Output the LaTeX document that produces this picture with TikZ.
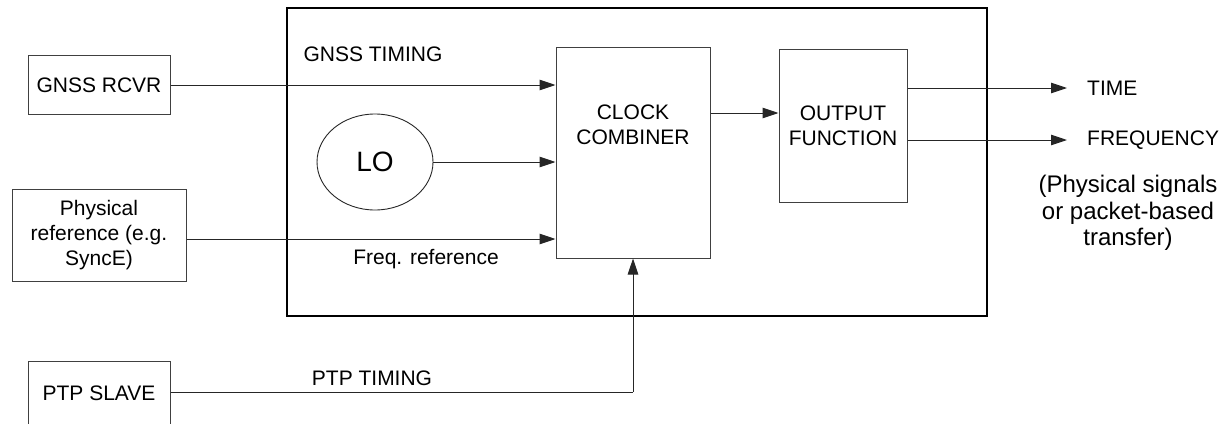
\documentclass[tikz,border=0pt]{standalone}
\usepackage{fontspec}
\setmainfont{Liberation Sans}
\usetikzlibrary{arrows.meta,shapes.geometric}
\begin{document}
\begin{tikzpicture}[x=1pt,y=-1pt,
  txt/.style={font=\fontsize{21}{25}\selectfont, inner sep=0pt, align=center},
  blk/.style={draw=black!75, line width=1pt, rectangle, inner sep=0pt, txt},
  arr/.style={draw=black!85, line width=1pt, -{Triangle[length=16pt,width=10.5pt]}},
  ln/.style={draw=black!85, line width=1pt}]
\useasboundingbox (0,0) rectangle (1230,423);
\clip (0,0) rectangle (1230,423);
% big frame
\node[draw=black, line width=2.6pt, rectangle, minimum width=700pt, minimum height=308pt, inner sep=0pt] (frame) at (637,162) {};
% blocks
\node[blk, minimum width=142pt, minimum height=59pt] (gnss) at (99,85) {GNSS RCVR};
\node[blk, minimum width=174pt, minimum height=92pt] (phys) at (99,235) {Physical\\reference (e.g.\\SyncE)};
\node[blk, minimum width=142pt, minimum height=64pt] (ptp) at (99,393) {PTP SLAVE};
\node[blk, minimum width=154pt, minimum height=211pt] (comb) at (633,152.5) {};
\node[txt] (combtxt) at (633,125) {CLOCK\\COMBINER};
\node[blk, minimum width=128pt, minimum height=153pt] (out) at (843,125.5) {OUTPUT\\FUNCTION};
\node[draw=black!85, line width=0.9pt, ellipse, minimum width=116pt, minimum height=96pt, inner sep=0pt, font=\fontsize{28}{32}\selectfont] (lo) at (375,162) {LO};
% labels
\node[txt] (gnsslbl) at (373,54) {GNSS TIMING};
\node[txt] (freqlbl) at (426,259) {Freq. reference};
\node[txt] (ptplbl) at (372,378) {PTP TIMING};
\node[txt, anchor=west] (time) at (1087,88) {TIME};
\node[txt, anchor=west] (freq) at (1087,140) {FREQUENCY};
\node[txt, font=\fontsize{24}{26.7}\selectfont] (note) at (1128,213) {(Physical signals\\or packet-based\\transfer)};
% coordinates
\coordinate (timeend) at (1067,88);
\coordinate (freqend) at (1067,140);
\coordinate (frline) at (0,239);
\coordinate (ptpcorner) at (633,392);
\coordinate (outline) at (0,113);
% connectors
\draw[arr] (gnss.east) -- (comb.west |- gnss.east);
\draw[arr] (lo.east) -- (comb.west |- lo.east);
\draw[arr] (phys.east |- frline) -- (comb.west |- frline);
\draw[arr] (comb.east |- outline) -- (out.west |- outline);
\draw[arr] (out.east |- timeend) -- (timeend);
\draw[arr] (out.east |- freqend) -- (freqend);
\draw[ln] (ptp.east |- ptpcorner) -- (ptpcorner);
\draw[arr] (ptpcorner) -- (comb.south);
\end{tikzpicture}
\end{document}
